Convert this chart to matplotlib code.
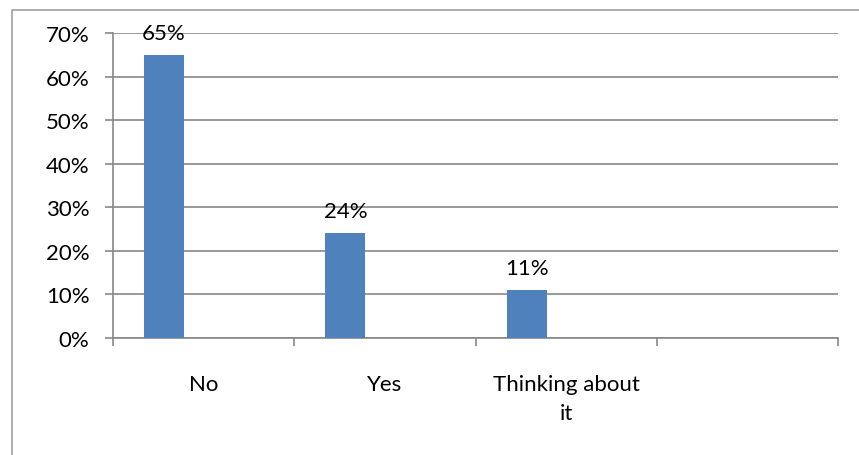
import matplotlib
matplotlib.use("Agg")
import matplotlib.pyplot as plt
from matplotlib.patches import Rectangle
from matplotlib.ticker import FixedLocator, PercentFormatter

categories = ["No", "Yes", "Thinking about\nit", ""]
values = [65, 24, 11, None]
yticks = [0, 10, 20, 30, 40, 50, 60, 70]

BAR = "#4F81BD"
GRID = "#878787"
FS = 16

plt.rcParams["font.family"] = ["Lato", "DejaVu Sans"]

W, H = 859, 456
fig = plt.figure(figsize=(W / 100, H / 100), dpi=100)
# outer chart border (left and top visible)
fig.patches.append(Rectangle((12 / W, -0.1), 1.2, (H - 11) / H + 0.1, transform=fig.transFigure,
                             fill=False, edgecolor="#A0A0A0", linewidth=1.2))

ax = fig.add_axes([113 / W, (H - 339) / H, (838 - 113) / W, (339 - 34) / H])

n = len(categories)
slot_off = -0.218
width = 0.221
for i, v in enumerate(values):
    if v is None:
        continue
    x = i + 0.5 + slot_off
    ax.bar(x, v, width=width, color=BAR, zorder=3)
    ax.annotate(f"{v}%", (x, v), xytext=(0, 16), textcoords="offset points",
                ha="center", va="center", fontsize=FS, color="#000000", zorder=4)

ax.set_xlim(0, n)
ax.set_ylim(0, 70)
ax.set_yticks(yticks)
ax.yaxis.set_major_formatter(PercentFormatter(decimals=0))
ax.grid(axis="y", color=GRID, linewidth=1.2, zorder=0)
ax.set_axisbelow(True)

ax.xaxis.set_major_locator(FixedLocator(list(range(n + 1))))
ax.xaxis.set_minor_locator(FixedLocator([i + 0.5 for i in range(n)]))
ax.set_xticklabels([])
ax.set_xticklabels(categories, minor=True, fontsize=FS, linespacing=1.55)
ax.tick_params(axis="x", which="major", length=6, width=1.2, color=GRID, direction="out")
ax.tick_params(axis="x", which="minor", length=0, pad=26)
ax.tick_params(axis="y", which="major", length=6, width=1.2, color=GRID, pad=11, labelsize=FS)

for s in ["top", "right"]:
    ax.spines[s].set_visible(False)
for s in ["left", "bottom"]:
    ax.spines[s].set_color(GRID)
    ax.spines[s].set_linewidth(1.2)

fig.savefig("out.png", dpi=100)
